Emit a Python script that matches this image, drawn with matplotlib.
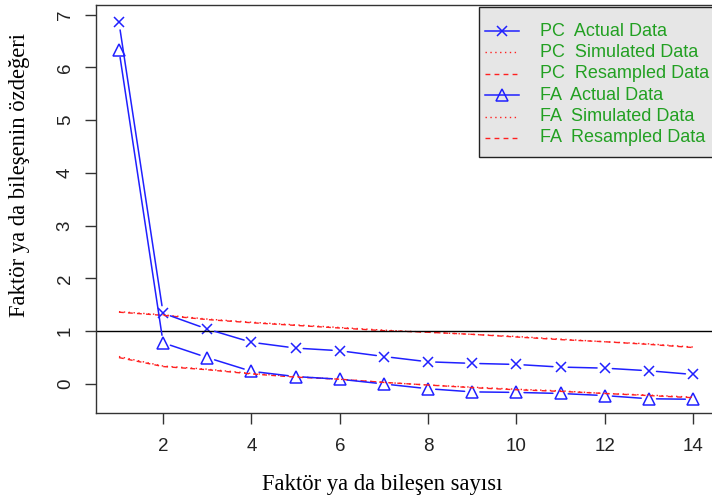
#!/usr/bin/env python3

import matplotlib
matplotlib.use("Agg")
import matplotlib.pyplot as plt
from matplotlib.lines import Line2D
from matplotlib.patches import Rectangle


# eigenvalues
n_factors = list(range(1, 15))
pc_actual = [6.85, 1.34, 1.04, 0.79, 0.68, 0.63, 0.52, 0.42, 0.39, 0.37, 0.32, 0.30, 0.25, 0.18]
pc_simulated = [1.37, 1.31, 1.23, 1.17, 1.12, 1.07, 1.02, 0.98, 0.94, 0.90, 0.85, 0.80, 0.76, 0.70]
pc_resampled = [1.36, 1.30, 1.22, 1.16, 1.11, 1.06, 1.01, 0.98, 0.94, 0.89, 0.84, 0.80, 0.75, 0.69]
fa_actual = [6.33, 0.78, 0.50, 0.24, 0.14, 0.09, 0.00, -0.09, -0.15, -0.16, -0.18, -0.22, -0.28, -0.29]
fa_simulated = [0.52, 0.34, 0.28, 0.20, 0.14, 0.09, 0.03, -0.02, -0.06, -0.10, -0.13, -0.18, -0.21, -0.25]
fa_resampled = [0.50, 0.33, 0.27, 0.19, 0.13, 0.09, 0.03, -0.02, -0.07, -0.11, -0.14, -0.18, -0.22, -0.26]

legend_labels = ["PC  Actual Data", "PC  Simulated Data", "PC  Resampled Data",
                 "FA  Actual Data", "FA  Simulated Data", "FA  Resampled Data"]

x_label = "Faktör ya da bileşen sayısı"
y_label = "Faktör ya da bileşenin özdeğeri"

W, H = 712, 498
BLUE = "#2020ff"
RED = "#ff2020"
DOTTED = (0, (1, 2.5))
DASHED = (0, (3.5, 3))


def px(x, y):
    # figure pixels (from top-left) -> figure fraction
    return x / W, 1 - y / H


def plot_type_b(ax, xs, ys, marker, ms, color):
    # R type="b": markers with gaps in the connecting lines
    for i in range(len(xs) - 1):
        ax.annotate("", xy=(xs[i + 1], ys[i + 1]), xytext=(xs[i], ys[i]),
                    arrowprops=dict(arrowstyle="-", color=color, lw=1.1,
                                    shrinkA=5.5, shrinkB=5.5))
    ax.plot(xs, ys, linestyle="none", marker=marker, ms=ms, color=color,
            mfc="none", mec=color, mew=1.1)


def draw_legend(fig):
    x0, y0 = px(479, 7)
    x1, y1 = px(730, 157)
    fig.add_artist(Rectangle((x0, y1), x1 - x0, y0 - y1, transform=fig.transFigure,
                             facecolor="#e6e6e6", edgecolor="#222222", lw=1.0))
    styles = [
        (dict(color=BLUE, lw=1.1), "x", 7.5),
        (dict(color=RED, lw=1.0, linestyle=DOTTED), None, 0),
        (dict(color=RED, lw=1.0, linestyle=DASHED), None, 0),
        (dict(color=BLUE, lw=1.1), "^", 8.5),
        (dict(color=RED, lw=1.0, linestyle=DOTTED), None, 0),
        (dict(color=RED, lw=1.0, linestyle=DASHED), None, 0),
    ]
    for i, (lab, (st, mk, ms)) in enumerate(zip(legend_labels, styles)):
        yc = 31 + 21.4 * i
        xa, ya = px(485, yc)
        xb, _ = px(519, yc)
        fig.add_artist(Line2D([xa, xb], [ya, ya], transform=fig.transFigure, **st))
        if mk:
            fig.add_artist(Line2D([(xa + xb) / 2], [ya], transform=fig.transFigure,
                                  linestyle="none", marker=mk, ms=ms, mfc="none",
                                  mec=st["color"], mew=1.1))
        tx, ty = px(540, yc)
        fig.text(tx, ty, lab, ha="left", va="center", color="#22a022",
                 family="Liberation Sans", fontsize=13)


def main():
    fig = plt.figure(figsize=(W / 100, H / 100), dpi=100)
    ax = fig.add_axes([96 / W, 85 / H, 620 / W, 408 / H])

    plot_type_b(ax, n_factors, pc_actual, "x", 7.5, BLUE)
    plot_type_b(ax, n_factors, fa_actual, "^", 8.5, BLUE)
    ax.plot(n_factors, pc_simulated, color=RED, lw=1.0, linestyle=DOTTED)
    ax.plot(n_factors, pc_resampled, color=RED, lw=1.0, linestyle=DASHED)
    ax.plot(n_factors, fa_simulated, color=RED, lw=1.0, linestyle=DOTTED)
    ax.plot(n_factors, fa_resampled, color=RED, lw=1.0, linestyle=DASHED)
    ax.axhline(1, color="black", lw=1.0)

    ax.set_xlim(0.48, 14.52)
    ax.set_ylim(-0.55, 7.18)
    ax.set_xticks(range(2, 15, 2))
    ax.set_yticks(range(0, 8))
    ax.tick_params(axis="both", direction="out", length=8, width=1, color="#333333",
                   labelsize=13.5)
    ax.tick_params(axis="y", pad=8)
    ax.tick_params(axis="x", pad=10)
    for lab in ax.get_yticklabels():
        lab.set_rotation(90)
        lab.set_va("center")
    for lab in ax.get_xticklabels() + ax.get_yticklabels():
        lab.set_fontfamily("Liberation Sans")
        lab.set_color("#222222")
    for sp in ax.spines.values():
        sp.set_color("#333333")
        sp.set_linewidth(1.0)

    draw_legend(fig)

    fig.text(*px(382, 484), x_label, ha="center", va="center",
             family="Liberation Serif", fontsize=16.3)
    fig.text(*px(20, 175), y_label, ha="center", va="center",
             rotation=90, family="Liberation Serif", fontsize=16.3)

    fig.savefig("out.png", dpi=100)


if __name__ == '__main__':
    main()
